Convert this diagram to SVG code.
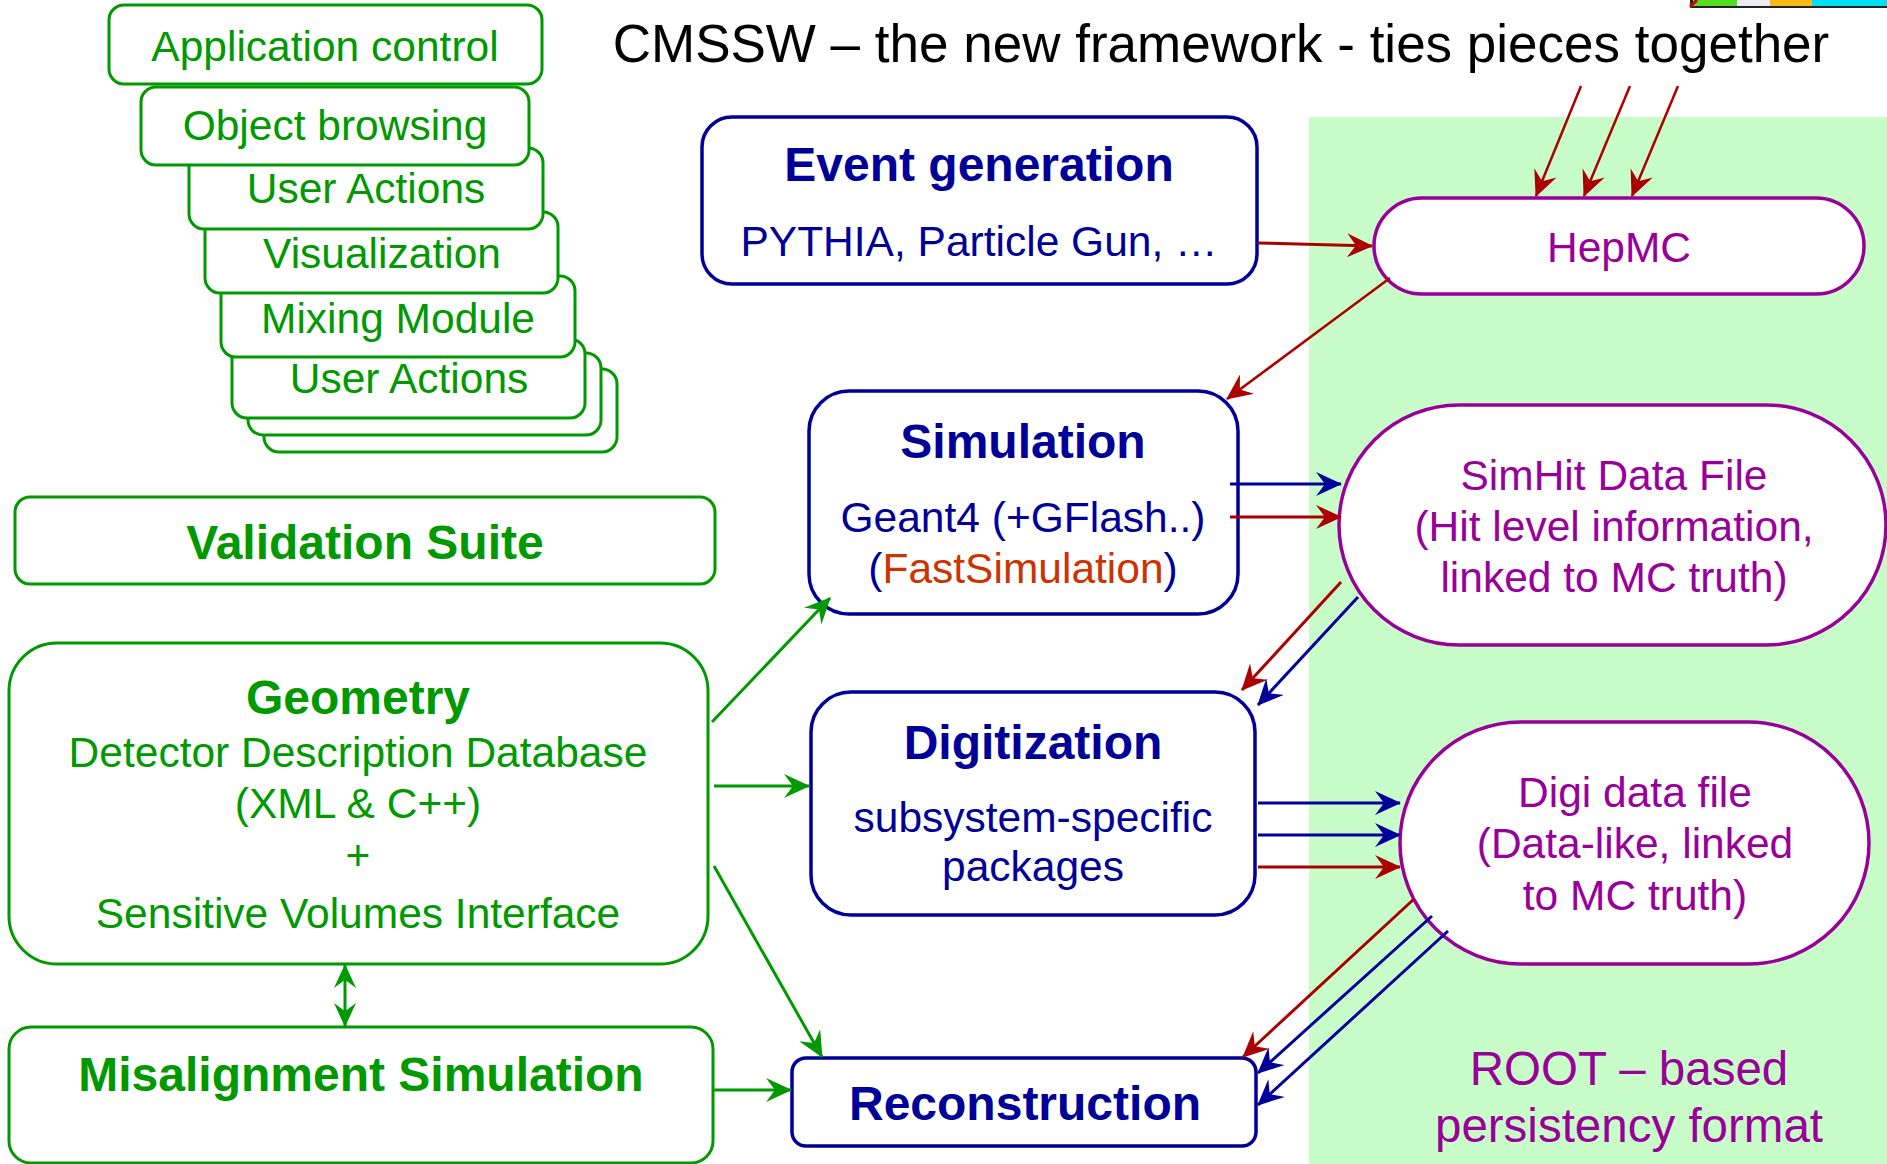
<svg xmlns="http://www.w3.org/2000/svg" width="1887" height="1164" viewBox="0 0 1887 1164">
<style>
text{font-family:"Liberation Sans",Arial,sans-serif;text-anchor:middle}
.g{fill:#009900}.b{fill:#000099}.p{fill:#990099}
.bold{font-weight:bold;font-size:48px}
.t42{font-size:42.5px}
.gbox{fill:#fff;stroke:#009900;stroke-width:3}
.bbox{fill:#fff;stroke:#000099;stroke-width:3.5}
.pbox{fill:#fff;stroke:#990099;stroke-width:3.5}
.r{stroke:#aa0000;stroke-width:3;fill:none;marker-end:url(#ar)}
.bl{stroke:#000099;stroke-width:3;fill:none;marker-end:url(#ab)}
.gr{stroke:#009900;stroke-width:3;fill:none;marker-end:url(#ag)}
</style>
<defs>
<marker id="ar" viewBox="0 0 26 24" markerWidth="26" markerHeight="24" refX="25" refY="12" orient="auto" markerUnits="userSpaceOnUse"><path d="M0,0 L26,12 L0,24 L9,12 z" fill="#aa0000"/></marker>
<marker id="ab" viewBox="0 0 26 24" markerWidth="26" markerHeight="24" refX="25" refY="12" orient="auto" markerUnits="userSpaceOnUse"><path d="M0,0 L26,12 L0,24 L9,12 z" fill="#000099"/></marker>
<marker id="ag" viewBox="0 0 26 24" markerWidth="26" markerHeight="24" refX="25" refY="12" orient="auto" markerUnits="userSpaceOnUse"><path d="M0,0 L26,12 L0,24 L9,12 z" fill="#009900"/></marker>
<marker id="ag2" viewBox="0 0 26 24" markerWidth="24" markerHeight="22" refX="25" refY="12" orient="auto-start-reverse" markerUnits="userSpaceOnUse"><path d="M0,0 L26,12 L0,24 L9,12 z" fill="#009900"/></marker>
</defs>
<rect x="0" y="0" width="1887" height="1164" fill="#fff"/>
<rect x="1309" y="117" width="578" height="1047" fill="#c8fcc8"/>
<g id="strip">
<rect x="1690" y="0" width="197" height="8" fill="#222"/>
<rect x="1693" y="0" width="44" height="6" fill="#55dd22"/>
<rect x="1737" y="0" width="33" height="6" fill="#eeeaf6"/>
<rect x="1770" y="0" width="42" height="6" fill="#f8b818"/>
<rect x="1812" y="0" width="75" height="6" fill="#00e0f0"/>
<path d="M1690,7 L1697,0" stroke="#cc0000" stroke-width="3"/>
</g>
<text x="1221" y="62" style="font-size:53px" fill="#000">CMSSW – the new framework - ties pieces together</text>

<g id="stack">
<g id="shadow2"><rect class="gbox" x="264" y="369" width="353" height="83" rx="15"/></g>
<g id="shadow1"><rect class="gbox" x="248" y="353" width="353" height="82" rx="15"/></g>
<g id="user-actions-2"><rect class="gbox" x="232" y="339" width="353" height="79" rx="15"/><text class="g t42" x="409" y="393">User Actions</text></g>
<g id="mixing-module"><rect class="gbox" x="221" y="276" width="354" height="81" rx="15"/><text class="g t42" x="398" y="333">Mixing Module</text></g>
<g id="visualization"><rect class="gbox" x="205" y="212" width="353" height="81" rx="15"/><text class="g t42" x="382" y="268">Visualization</text></g>
<g id="user-actions-1"><rect class="gbox" x="189" y="148" width="354" height="81" rx="15"/><text class="g t42" x="366" y="203">User Actions</text></g>
<g id="object-browsing"><rect class="gbox" x="141" y="87" width="388" height="78" rx="15"/><text class="g t42" x="335" y="140">Object browsing</text></g>
<g id="application-control"><rect class="gbox" x="109" y="5" width="433" height="79" rx="15"/><text class="g t42" x="325" y="61">Application control</text></g>
</g>

<g id="validation-suite"><rect class="gbox" x="15" y="497" width="700" height="87" rx="15"/><text class="g bold" x="365" y="559">Validation Suite</text></g>

<g id="geometry"><rect class="gbox" x="9" y="643" width="699" height="321" rx="48"/>
<text class="g bold" x="358" y="714">Geometry</text>
<text class="g t42" x="358" y="767">Detector Description Database</text>
<text class="g t42" x="358" y="818">(XML &amp; C++)</text>
<text class="g t42" x="358" y="870">+</text>
<text class="g t42" x="358" y="928">Sensitive Volumes Interface</text></g>

<g id="misalignment-simulation"><rect class="gbox" x="9" y="1027" width="704" height="136" rx="22"/><text class="g bold" x="361" y="1091">Misalignment Simulation</text></g>

<g id="event-generation"><rect class="bbox" x="702" y="117" width="555" height="167" rx="30"/>
<text class="b bold" x="979" y="181">Event generation</text>
<text class="b t42" x="979" y="256">PYTHIA, Particle Gun, …</text></g>

<g id="simulation"><rect class="bbox" x="809" y="391" width="429" height="223" rx="40"/>
<text class="b bold" x="1023" y="458">Simulation</text>
<text class="b t42" x="1023" y="532">Geant4 (+GFlash..)</text>
<text class="b t42" x="1023" y="583">(<tspan fill="#cc3300">FastSimulation</tspan>)</text></g>

<g id="digitization"><rect class="bbox" x="811" y="692" width="444" height="223" rx="40"/>
<text class="b bold" x="1033" y="759">Digitization</text>
<text class="b t42" x="1033" y="832">subsystem-specific</text>
<text class="b t42" x="1033" y="881">packages</text></g>

<g id="reconstruction"><rect class="bbox" x="792" y="1058" width="464" height="88" rx="14"/><text class="b bold" x="1025" y="1120">Reconstruction</text></g>

<g id="hepmc"><rect class="pbox" x="1374" y="198" width="490" height="96" rx="48"/><text class="p t42" x="1619" y="262">HepMC</text></g>

<g id="simhit-data-file"><rect class="pbox" x="1339" y="405" width="547" height="240" rx="120"/>
<text class="p t42" x="1614" y="490">SimHit Data File</text>
<text class="p t42" x="1614" y="541">(Hit level information,</text>
<text class="p t42" x="1614" y="592">linked to MC truth)</text></g>

<g id="digi-data-file"><rect class="pbox" x="1400" y="722" width="469" height="242" rx="121"/>
<text class="p t42" x="1635" y="807">Digi data file</text>
<text class="p t42" x="1635" y="858">(Data-like, linked</text>
<text class="p t42" x="1635" y="910">to MC truth)</text></g>

<g id="root-label"><text class="p" style="font-size:47.5px" x="1629" y="1085">ROOT – based</text><text class="p" style="font-size:47.5px" x="1629" y="1142">persistency format</text></g>

<g id="connectors">
<line class="r" x1="1258" y1="243" x2="1372" y2="246"/>
<line class="r" style="stroke-width:2.5" x1="1581" y1="86" x2="1536" y2="196"/>
<line class="r" style="stroke-width:2.5" x1="1630" y1="86" x2="1584" y2="196"/>
<line class="r" style="stroke-width:2.5" x1="1678" y1="86" x2="1632" y2="196"/>
<line class="r" style="stroke-width:2.5" x1="1390" y1="278" x2="1227" y2="399"/>
<line class="bl" x1="1230" y1="484" x2="1341" y2="484"/>
<line class="r" x1="1230" y1="517" x2="1341" y2="517"/>
<line class="r" x1="1341" y1="582" x2="1242" y2="690"/>
<line class="bl" x1="1358" y1="597" x2="1258" y2="705"/>
<line class="bl" x1="1258" y1="803" x2="1400" y2="803"/>
<line class="bl" x1="1258" y1="835" x2="1400" y2="835"/>
<line class="r" x1="1258" y1="867" x2="1400" y2="867"/>
<line class="r" x1="1414" y1="899" x2="1243" y2="1057"/>
<line class="bl" x1="1432" y1="916" x2="1258" y2="1073"/>
<line class="bl" x1="1448" y1="931" x2="1258" y2="1105"/>
<line class="gr" x1="712" y1="722" x2="830" y2="598"/>
<line class="gr" x1="714" y1="786" x2="809" y2="786"/>
<line class="gr" x1="714" y1="866" x2="822" y2="1057"/>
<line class="gr" x1="713" y1="1090" x2="791" y2="1090"/>
<line stroke="#009900" stroke-width="3" x1="345" y1="965" x2="345" y2="1026" marker-start="url(#ag2)" marker-end="url(#ag2)"/>
</g>
</svg>
